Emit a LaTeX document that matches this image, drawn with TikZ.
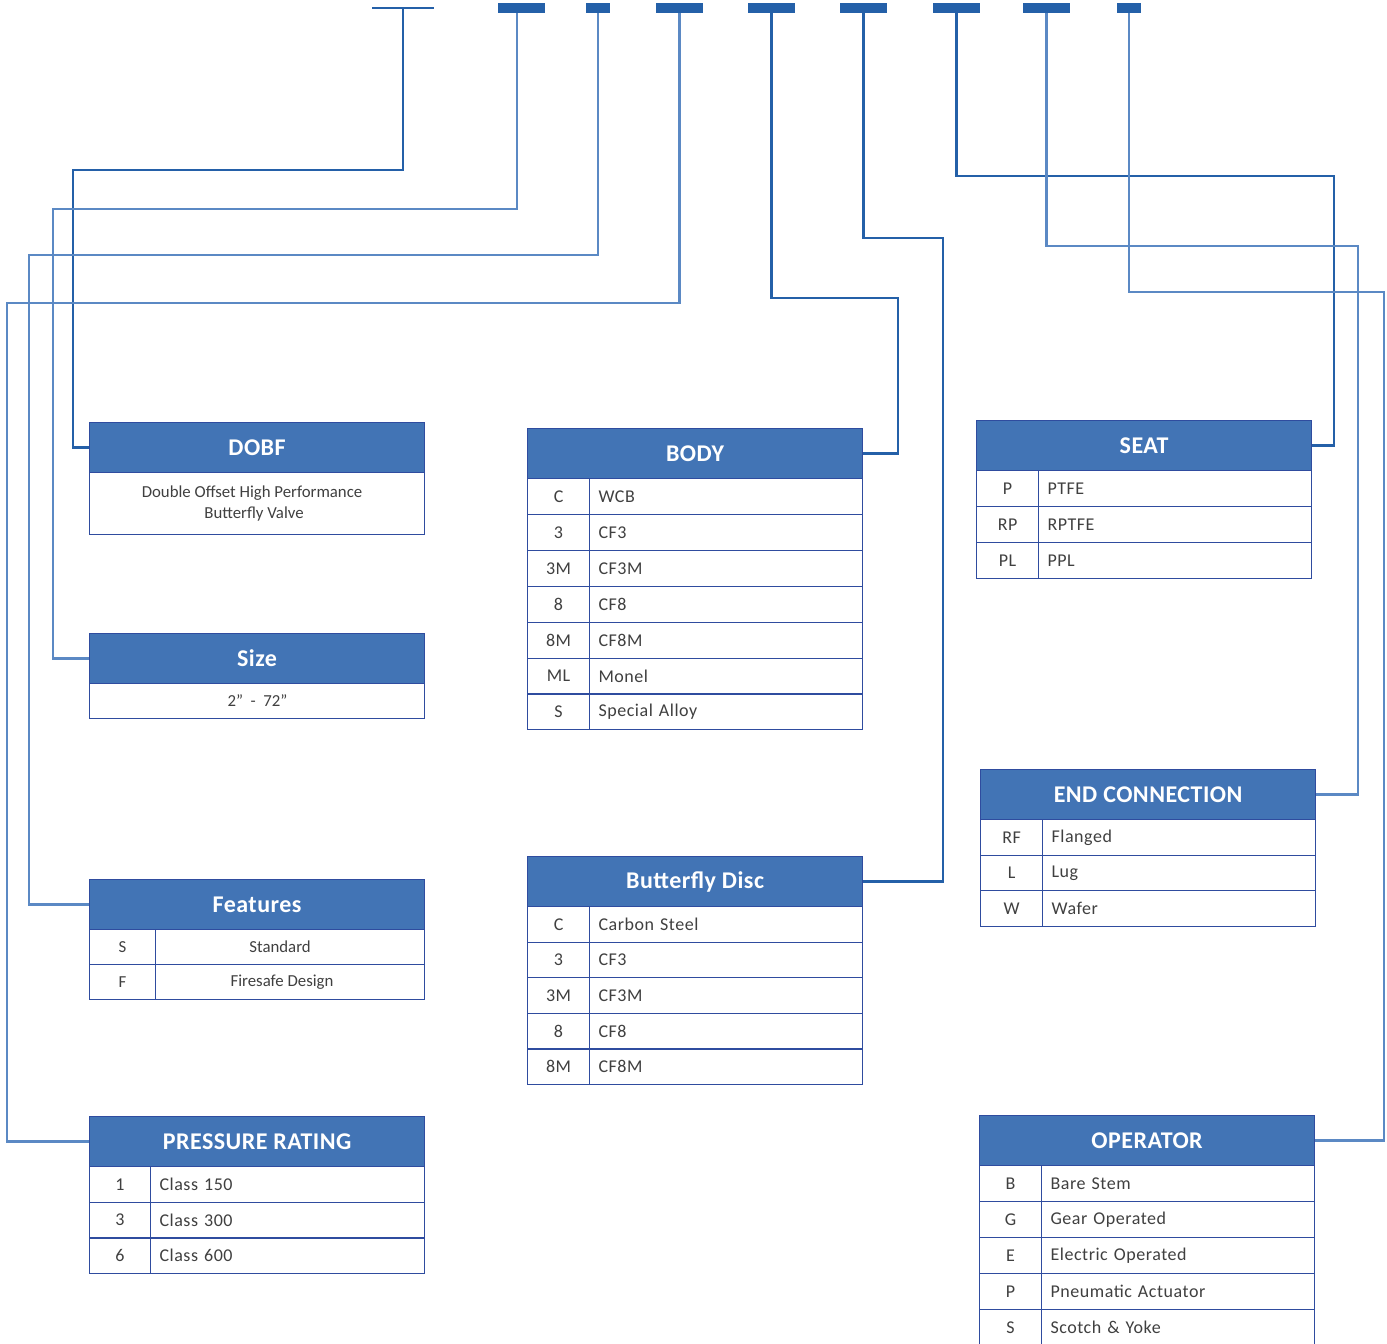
\documentclass[tikz,border=0pt]{standalone}
\usepackage{fontspec}
\setmainfont{Carlito}
\newfontfamily\tfont[LetterSpace=3]{Carlito}
\newfontfamily\hfont[LetterSpace=2]{Carlito}
\usetikzlibrary{calc,backgrounds}
\definecolor{hdrblue}{HTML}{4274B5}
\definecolor{brd}{HTML}{2F4C9F}
\definecolor{lnd}{HTML}{2460A8}
\definecolor{lnl}{HTML}{5B89C4}
\definecolor{txt}{HTML}{404040}
\tikzset{
  hdr/.style={draw=brd, line width=1.2pt, fill=hdrblue, text=white,
    font=\hfont\fontsize{24}{28}\selectfont\bfseries, anchor=north west, inner sep=0pt,
    minimum width=335pt, minimum height=50pt},
  cell/.style={draw=brd, line width=1.1pt, fill=white, text=txt, anchor=north west, inner sep=0pt},
  codecell/.style={cell, align=center, font=\tfont\fontsize{18}{21}\selectfont},
  desccell/.style={cell, align=left, inner xsep=9pt, font=\tfont\fontsize{18}{21}\selectfont},
  plaincell/.style={cell, align=center, font=\fontsize{16.8}{22}\selectfont},
  bar/.style={fill=lnd, inner sep=0pt, minimum height=10pt},
  thinbar/.style={fill=lnd, inner sep=0pt, minimum height=2.4pt},
  dk/.style={draw=lnd, line width=2.8pt},
  lt/.style={draw=lnl, line width=2.4pt},
}
% name, x, ytop, codew, rowh, title, rows
\newcommand\vtable[7]{%
  \node[hdr] (#1) at (#2,#3) {#6};
  \pgfmathsetmacro\dw{335-#4-18}
  \foreach \c/\d [count=\i] in {#7} {
    \node[codecell, minimum width=#4pt, minimum height=#5pt] (#1-c\i) at (#2,{#3+50+#5*(\i-1)}) {\c};
    \node[desccell, text width=\dw pt, minimum height=#5pt] (#1-d\i) at ({#2+#4},{#3+50+#5*(\i-1)}) {\d};
  }
}
\begin{document}
\begin{tikzpicture}[x=1pt,y=-1pt]
\useasboundingbox (0,0) rectangle (1387,1344);
% top code bars
\node[thinbar, minimum width=62pt] (t1) at (403,8) {};
\node[bar, minimum width=47pt] (t2) at (521.5,8) {};
\node[bar, minimum width=24pt] (t3) at (598,8) {};
\node[bar, minimum width=47pt] (t4) at (679.5,8) {};
\node[bar, minimum width=47pt] (t5) at (771.5,8) {};
\node[bar, minimum width=47pt] (t6) at (863.5,8) {};
\node[bar, minimum width=47pt] (t7) at (956.5,8) {};
\node[bar, minimum width=47pt] (t8) at (1046.5,8) {};
\node[bar, minimum width=24pt] (t9) at (1129,8) {};
% boxes
\node[hdr] (dobf) at (89,422) {DOBF};
\node[plaincell, minimum width=335pt, minimum height=62pt] (dobf-b) at (89,472) {\hspace*{-10pt}Double Offset High Performance\\[-1pt]\hspace*{-6pt}Butterfly Valve};
\node[hdr] (size) at (89,633) {Size};
\node[plaincell, minimum width=335pt, minimum height=35pt] (size-b) at (89,683) {\hspace*{1pt}2”\ \ -\ \ 72”};
\node[hdr] (feat) at (89,879) {Features};
\node[plaincell, minimum width=66pt, minimum height=35pt] (feat-c1) at (89,929) {S};
\node[plaincell, minimum width=269pt, minimum height=35pt] (feat-d1) at (155,929) {\hspace*{-20pt}Standard};
\node[plaincell, minimum width=66pt, minimum height=35pt] (feat-c2) at (89,964) {F};
\node[plaincell, minimum width=269pt, minimum height=35pt] (feat-d2) at (155,964) {\hspace*{-16pt}Firesafe Design};
\vtable{press}{89}{1116}{61}{35.7}{PRESSURE RATING}{1/Class 150, 3/Class 300, 6/Class 600}
\vtable{body}{527}{428}{62}{35.9}{BODY}{C/WCB, 3/CF3, 3M/CF3M, 8/CF8, 8M/CF8M, ML/Monel, S/Special Alloy}
\vtable{disc}{527}{856}{62}{35.6}{Butterfly Disc}{C/Carbon Steel, 3/CF3, 3M/CF3M, 8/CF8, 8M/CF8M}
\vtable{seat}{976}{420}{62}{36}{SEAT}{P/PTFE, RP/RPTFE, PL/PPL}
\vtable{endc}{980}{769}{62}{35.5}{END CONNECTION}{RF/Flanged, L/Lug, W/Wafer}
\vtable{oper}{979}{1115}{62}{36}{OPERATOR}{B/Bare Stem, G/Gear Operated, E/Electric Operated, P/Pneumatic Actuator, S/Scotch \& Yoke}
% connectors
\begin{pgfonlayer}{background}
\fill[white] (0,0) rectangle (1387,1344);
\draw[dk] (t1.center) |- (73,170) |- (dobf.west);
\draw[lt] ([xshift=-4.5pt]t2.south) |- (53,209) |- (size.west);
\draw[lt] (t3.south) |- (29,255) |- (feat.west);
\draw[lt] (t4.south) |- (7,303) |- (press.west);
\draw[dk] (t5.south) |- (898,298) |- (body.east);
\draw[dk] (t6.south) |- (943,238) |- (disc.east);
\draw[dk] (t7.south) |- (1334,176) |- (seat.east);
\draw[lt] (t8.south) |- (1358,246) |- (endc.east);
\draw[lt] (t9.south) |- (1384,292) |- (oper.east);
\end{pgfonlayer}
\end{tikzpicture}
\end{document}
